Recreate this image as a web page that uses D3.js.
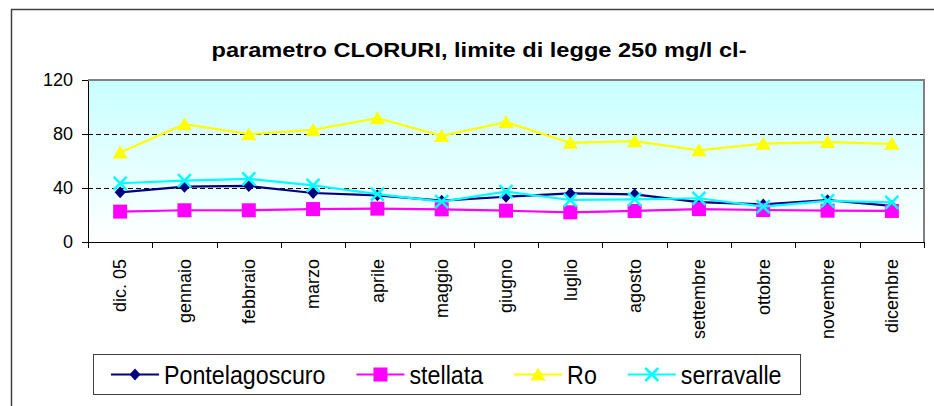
<!doctype html>
<html lang="it">
<head>
<meta charset="UTF-8" />
<title>parametro CLORURI</title>
<script src="https://d3js.org/d3.v7.min.js"></script>
<style>
  body { margin: 0; background: #fff; }
  svg { display: block; font-family: 'Liberation Sans', Arial, sans-serif; }
  .grid { stroke: #000; stroke-width: 1px; stroke-dasharray: 5 3; }
  .axis path, .axis line { stroke: #000; shape-rendering: crispEdges; }
  .axis text { fill: #000; font-size: 18px; }
</style>
</head>
<body>
<svg width="934" height="406"></svg>
<script>
const months = ['dic. 05', 'gennaio', 'febbraio', 'marzo', 'aprile', 'maggio', 'giugno',
  'luglio', 'agosto', 'settembre', 'ottobre', 'novembre', 'dicembre']
const pontelagoscuro = [36.8, 41, 41.5, 36.3, 34.6, 30.6, 33.5, 36, 35.3, 29.5, 27.8, 31, 26.7]
const stellata = [22.5, 23.5, 23.5, 24.4, 24.7, 24.2, 23.2, 22, 23, 24.4, 23.7, 23.2, 23]
const ro = [66.3, 87.3, 79.9, 83, 91.7, 78.6, 88.8, 73.5, 74.7, 67.9, 72.8, 74, 72.7]
const serravalle = [43.5, 45.4, 46.7, 42, 35.5, 29.9, 37.3, 31.1, 31.6, 32.4, 26.2, 30.4, 29.4]
const yTicks = [0, 40, 80, 120]
const gridValues = [40, 80]
const title = 'parametro CLORURI, limite di legge 250 mg/l cl-'

const series = [
  { name: 'Pontelagoscuro', values: pontelagoscuro, color: '#000080', marker: 'diamond' },
  { name: 'stellata', values: stellata, color: '#ff00ff', marker: 'square' },
  { name: 'Ro', values: ro, color: '#ffff00', marker: 'triangle' },
  { name: 'serravalle', values: serravalle, color: '#00ffff', marker: 'cross' }
]

const svg = d3.select('svg')
const plot = { left: 88, top: 80, right: 924, bottom: 242 }

// outer chart frame (runs off the right edge)
svg.append('path')
  .attr('d', 'M11.5,406 V9.5 H934')
  .attr('fill', 'none')
  .attr('stroke', '#404040')
  .attr('stroke-width', 1.5)

svg.append('text')
  .attr('x', 479)
  .attr('y', 57)
  .attr('text-anchor', 'middle')
  .attr('font-weight', 'bold')
  .attr('font-size', 20)
  .attr('textLength', 535)
  .attr('lengthAdjust', 'spacingAndGlyphs')
  .text(title)

const x = d3.scaleBand().domain(months).range([plot.left, plot.right])
const xTick = d3.scaleLinear().domain([0, months.length]).range([plot.left, plot.right])
const y = d3.scaleLinear().domain([0, 120]).range([plot.bottom, plot.top])

// plot background
const grad = svg.append('defs').append('linearGradient')
  .attr('id', 'bg').attr('x1', 0).attr('y1', 0).attr('x2', 0).attr('y2', 1)
grad.append('stop').attr('offset', 0).attr('stop-color', '#c8ffff')
grad.append('stop').attr('offset', 1).attr('stop-color', '#ffffff')

svg.append('rect')
  .attr('x', plot.left).attr('y', plot.top)
  .attr('width', plot.right - plot.left).attr('height', plot.bottom - plot.top)
  .attr('fill', 'url(#bg)')

svg.append('g')
  .selectAll('line')
  .data(gridValues)
  .join('line')
  .attr('class', 'grid')
  .attr('x1', plot.left).attr('x2', plot.right)
  .attr('y1', (d) => Math.round(y(d)) + 0.5).attr('y2', (d) => Math.round(y(d)) + 0.5)

// gray border top / right
svg.append('path')
  .attr('d', `M${plot.left},${plot.top} H${plot.right} V${plot.bottom}`)
  .attr('fill', 'none')
  .attr('stroke', '#808080')
  .attr('stroke-width', 2)

// axes
svg.append('g')
  .attr('class', 'axis')
  .attr('transform', `translate(${plot.left},0)`)
  .call(d3.axisLeft(y).tickValues(yTicks).tickSize(6).tickPadding(9).tickSizeOuter(0))

svg.append('g')
  .attr('class', 'axis')
  .attr('transform', `translate(0,${plot.bottom})`)
  .call(d3.axisBottom(xTick).ticks(months.length).tickFormat('').tickSize(6).tickSizeOuter(0))

svg.append('g')
  .selectAll('text')
  .data(months)
  .join('text')
  .attr('font-size', 18)
  .attr('text-anchor', 'end')
  .attr('dy', '0.35em')
  .attr('transform', (d) => `translate(${x(d) + x.bandwidth() / 2},259) rotate(-90)`)
  .text((d) => d)

// markers
function marker(sel, type, color) {
  if (type === 'diamond') {
    sel.append('path').attr('d', 'M0,-6 L5.5,0 L0,6 L-5.5,0 Z').attr('fill', color)
  } else if (type === 'square') {
    sel.append('rect').attr('x', -7).attr('y', -7).attr('width', 14).attr('height', 14).attr('fill', color)
  } else if (type === 'triangle') {
    sel.append('path').attr('d', 'M0,-7 L7.5,6 L-7.5,6 Z').attr('fill', color)
  } else {
    sel.append('path').attr('d', 'M-6.5,-6.5 L6.5,6.5 M-6.5,6.5 L6.5,-6.5')
      .attr('stroke', color).attr('stroke-width', 2.5).attr('fill', 'none')
  }
}

const line = d3.line()
  .x((d, i) => x(months[i]) + x.bandwidth() / 2)
  .y((d) => y(d))

series.forEach((s) => {
  const g = svg.append('g')
  g.append('path')
    .attr('d', line(s.values))
    .attr('fill', 'none')
    .attr('stroke', s.color)
    .attr('stroke-width', 2.2)
  g.selectAll('g')
    .data(s.values)
    .join('g')
    .attr('transform', (d, i) => `translate(${x(months[i]) + x.bandwidth() / 2},${y(d)})`)
    .each(function () { marker(d3.select(this), s.marker, s.color) })
})

// legend (text is a bit narrow in the original)
const legend = svg.append('g')
legend.append('rect')
  .attr('x', 93.5).attr('y', 354.5).attr('width', 707).attr('height', 40)
  .attr('fill', '#fff').attr('stroke', '#404040').attr('stroke-width', 1)

const squeeze = 0.93
let lx = 111
series.forEach((s) => {
  const item = legend.append('g')
  item.append('line')
    .attr('x1', lx).attr('x2', lx + 48).attr('y1', 374.5).attr('y2', 374.5)
    .attr('stroke', s.color).attr('stroke-width', 2)
  const m = item.append('g').attr('transform', `translate(${lx + 24},374.5)`)
  marker(m, s.marker, s.color)
  const t = item.append('text')
    .attr('transform', `translate(${lx + 53},383.5) scale(${squeeze},1)`)
    .attr('font-size', 25)
    .text(s.name)
  lx += 53 + t.node().getComputedTextLength() * squeeze + 31
})
</script>
</body>
</html>
